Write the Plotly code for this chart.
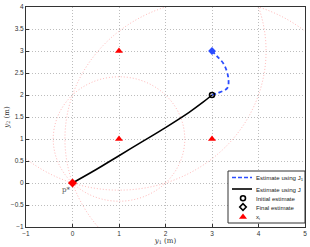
import plotly.graph_objects as go
import numpy as np

# Data
sensors_x = [1, 1, 3]
sensors_y = [3, 1, 1]
p_star = (0, 0)
init_est = (3, 2)
final_j1 = (3, 3)

j_path_x = [3.0, 2.8, 2.5, 2.0, 1.5, 1.0, 0.5, 0.0]
j_path_y = [2.0, 1.83, 1.6, 1.26, 0.94, 0.62, 0.3, 0.0]

j1_path_x = [3.0, 3.11, 3.33, 3.35, 3.26, 3.11, 3.0]
j1_path_y = [2.0, 2.04, 2.16, 2.39, 2.69, 2.88, 3.0]

x_ticks = [-1, 0, 1, 2, 3, 4, 5]
y_ticks = [-1, -0.5, 0, 0.5, 1, 1.5, 2, 2.5, 3, 3.5, 4]

legend_labels = ["Estimate using J<sub>1</sub>", "Estimate using J",
                 "Initial estimate", "Final estimate", "x<sub>i</sub>"]

BLUE = "#2b4cff"
fig = go.Figure()

# range circles around each sensor through p*
for sx, sy in zip(sensors_x, sensors_y):
    r = np.hypot(sx - p_star[0], sy - p_star[1])
    fig.add_shape(type="circle", xref="x", yref="y",
                  x0=sx - r, x1=sx + r, y0=sy - r, y1=sy + r,
                  line=dict(color="rgba(255,110,110,0.5)", width=1, dash="1px,2px"),
                  layer="below")

fig.add_trace(go.Scatter(x=j1_path_x, y=j1_path_y, mode="lines",
                         line=dict(color=BLUE, width=1.8, dash="4px,3px", shape="spline")))
fig.add_trace(go.Scatter(x=j_path_x, y=j_path_y, mode="lines",
                         line=dict(color="black", width=1.6, shape="spline", smoothing=1.0)))
fig.add_trace(go.Scatter(x=[init_est[0]], y=[init_est[1]], mode="markers",
                         marker=dict(symbol="circle-open", color="black", size=5, line=dict(width=1.6))))
fig.add_trace(go.Scatter(x=[final_j1[0]], y=[final_j1[1]], mode="markers",
                         marker=dict(symbol="diamond", color=BLUE, size=6)))
fig.add_trace(go.Scatter(x=[p_star[0]], y=[p_star[1]], mode="markers",
                         marker=dict(symbol="diamond", color="red", size=7)))
fig.add_trace(go.Scatter(x=sensors_x, y=sensors_y, mode="markers",
                         marker=dict(symbol="triangle-up", color="red", size=7)))

fig.add_annotation(x=-0.15, y=-0.17, text="p*", showarrow=False,
                   font=dict(family="DejaVu Serif", size=7, color="#555"))

# ---- custom compact legend on an overlay axis in pixel units ----
lx0, lx1, ly0, ly1 = 228, 305, 171, 223
row_y = [177.5, 189, 198.3, 207, 217]
fig.add_trace(go.Scatter(x=[lx0, lx1, lx1, lx0, lx0], y=[ly0, ly0, ly1, ly1, ly0],
                         xaxis="x2", yaxis="y2", mode="lines", fill="toself",
                         fillcolor="white", line=dict(color="#333", width=1)))
fig.add_trace(go.Scatter(x=[232, 252], y=[row_y[0]] * 2, xaxis="x2", yaxis="y2", mode="lines",
                         line=dict(color=BLUE, width=1.6, dash="4px,2px")))
fig.add_trace(go.Scatter(x=[232, 252], y=[row_y[1]] * 2, xaxis="x2", yaxis="y2", mode="lines",
                         line=dict(color="black", width=1.6)))
fig.add_trace(go.Scatter(x=[243], y=[row_y[2]], xaxis="x2", yaxis="y2", mode="markers",
                         marker=dict(symbol="circle-open", color="black", size=5, line=dict(width=1.6))))
fig.add_trace(go.Scatter(x=[243], y=[row_y[3]], xaxis="x2", yaxis="y2", mode="markers",
                         marker=dict(symbol="diamond-open", color="black", size=5, line=dict(width=1.6))))
fig.add_trace(go.Scatter(x=[243], y=[row_y[4]], xaxis="x2", yaxis="y2", mode="markers",
                         marker=dict(symbol="triangle-up", color="red", size=7)))
for lab, ry in zip(legend_labels, row_y):
    fig.add_annotation(x=254, y=ry, xref="x2", yref="y2", text=lab, showarrow=False,
                       xanchor="left", yanchor="middle",
                       font=dict(family="Liberation Sans", size=6.1, color="#222"))

axis_common = dict(showgrid=True, gridcolor="#bdbdbd", griddash="1px,2px", gridwidth=1,
                   zeroline=False, showline=True, linecolor="#333", linewidth=1,
                   mirror=True, ticks="inside", ticklen=3, tickcolor="#333", automargin=False,
                   tickfont=dict(family="Liberation Sans", size=6.5, color="#333"))

fig.update_xaxes(range=[-1, 5], tickvals=x_ticks, **axis_common,
                 title=dict(text="<i>y</i><sub>1</sub> (m)", standoff=0,
                            font=dict(family="DejaVu Serif", size=7, color="#333")))
fig.update_yaxes(range=[-1, 4], tickvals=y_ticks, **axis_common,
                 title=dict(text="<i>y</i><sub>2</sub> (m)", standoff=0,
                            font=dict(family="DejaVu Serif", size=7, color="#333")))

fig.update_layout(width=310, height=247, margin=dict(l=26, r=5, t=7, b=20),
                  plot_bgcolor="white", paper_bgcolor="white", showlegend=False,
                  xaxis2=dict(overlaying="x", range=[26, 305], visible=False, fixedrange=True),
                  yaxis2=dict(overlaying="y", range=[227, 7], visible=False, fixedrange=True))

fig.write_html("out.html", config={"displayModeBar": False},
               post_script="document.body.style.margin='0';")
